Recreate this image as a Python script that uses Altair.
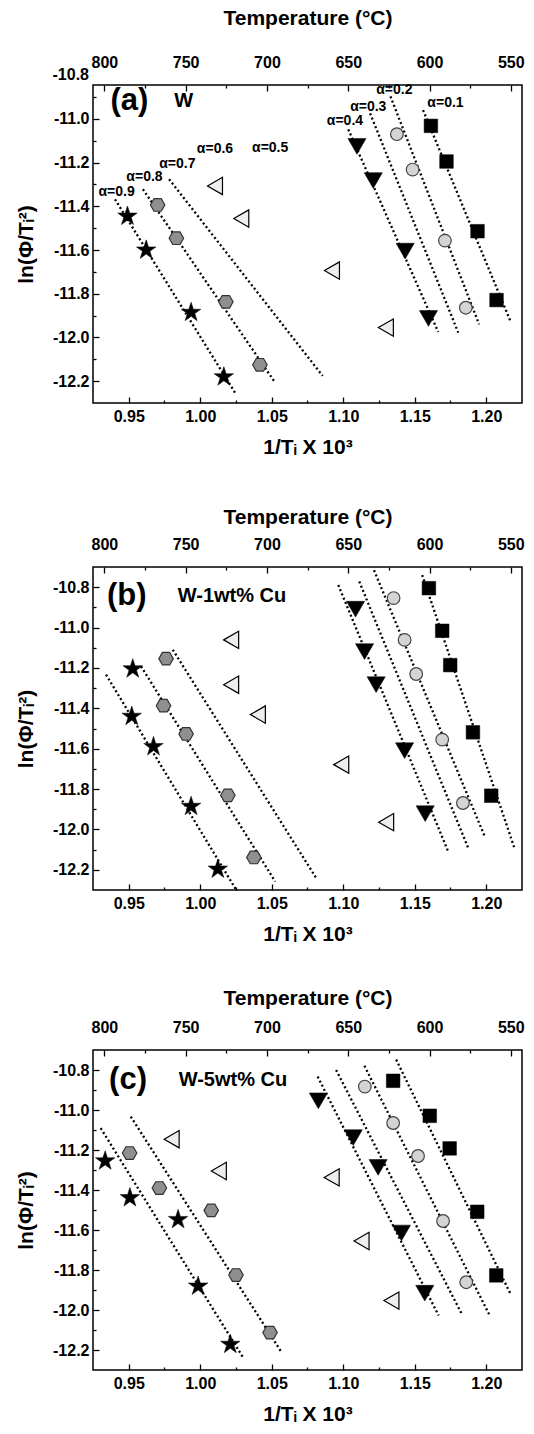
import altair as alt
import pandas as pd

FONT = "Liberation Sans"

# ---------------- axes ----------------
X_DOMAIN = [0.925, 1.225]
T_DOMAIN = [543.1, 807.0]   # temperature (deg C) at the right / left plot edges
X_MAJOR = [0.95, 1.00, 1.05, 1.10, 1.15, 1.20]
X_MINOR = [0.975, 1.025, 1.075, 1.125, 1.175]
T_MAJOR = [800, 750, 700, 650, 600, 550]
T_MINOR = [775, 725, 675, 625, 575]
Y_MAJOR = [-10.8, -11.0, -11.2, -11.4, -11.6, -11.8, -12.0, -12.2]
Y_MINOR = [-10.9, -11.1, -11.3, -11.5, -11.7, -11.9, -12.1]

# ---------------- panel (a) W ----------------
A_YDOM = [-12.3, -10.845]
A_SQ_X = [1.1613, 1.1722, 1.1939, 1.2072]
A_SQ_Y = [-11.032, -11.195, -11.514, -11.829]
A_CI_X = [1.1375, 1.1485, 1.1711, 1.1857]
A_CI_Y = [-11.070, -11.232, -11.557, -11.864]
A_TD_X = [1.1096, 1.1210, 1.1433, 1.1596]
A_TD_Y = [-11.126, -11.282, -11.605, -11.913]
A_TL_X = [1.0103, 1.0287, 1.0921, 1.1298]
A_TL_Y = [-11.307, -11.456, -11.694, -11.955]
A_HX_X = [0.9702, 0.9833, 1.0179, 1.0417]
A_HX_Y = [-11.394, -11.546, -11.837, -12.125]
A_ST_X = [0.9491, 0.9622, 0.9936, 1.0165]
A_ST_Y = [-11.441, -11.596, -11.881, -12.176]
A_LINE_ID = ["0.1", "0.2", "0.3", "0.4", "0.7", "0.8", "0.9"]
A_LINE_X1 = [1.1558, 1.1330, 1.1188, 1.1035, 0.9782, 0.9599, 0.9404]
A_LINE_Y1 = [-10.960, -10.897, -10.975, -11.048, -11.276, -11.322, -11.368]
A_LINE_X2 = [1.2167, 1.1950, 1.1804, 1.1664, 1.0856, 1.0523, 1.0252]
A_LINE_Y2 = [-11.922, -11.940, -11.978, -11.975, -12.176, -12.206, -12.262]
A_ALPHA_T = ["\u03b1=0.1", "\u03b1=0.2", "\u03b1=0.3", "\u03b1=0.4", "\u03b1=0.5",
             "\u03b1=0.6", "\u03b1=0.7", "\u03b1=0.8", "\u03b1=0.9"]
A_ALPHA_X = [1.1715, 1.1357, 1.1175, 1.1012, 1.0489, 1.0103, 0.9840, 0.9610, 0.9415]
A_ALPHA_Y = [-10.926, -10.870, -10.945, -11.009, -11.134, -11.139, -11.208, -11.266, -11.335]

# ---------------- panel (b) W-1wt% Cu ----------------
B_YDOM = [-12.3, -10.7]
B_SQ_X = [1.1599, 1.1692, 1.1748, 1.1907, 1.2035]
B_SQ_Y = [-10.805, -11.016, -11.186, -11.519, -11.833]
B_CI_X = [1.1352, 1.1429, 1.1510, 1.1692, 1.1837]
B_CI_Y = [-10.854, -11.061, -11.230, -11.555, -11.869]
B_TD_X = [1.1086, 1.1149, 1.1230, 1.1429, 1.1573]
B_TD_Y = [-10.909, -11.119, -11.283, -11.610, -11.922]
B_TL_X = [1.0216, 1.0216, 1.0403, 1.0986, 1.1300]
B_TL_Y = [-11.061, -11.283, -11.431, -11.679, -11.964]
B_HX_X = [0.9761, 0.9743, 0.9901, 1.0193, 1.0375]
B_HX_Y = [-11.154, -11.387, -11.527, -11.831, -12.139]
B_ST_X = [0.9528, 0.9521, 0.9673, 0.9936, 1.0123]
B_ST_Y = [-11.200, -11.435, -11.585, -11.881, -12.192]
B_LINE_ID = ["0.1", "0.2", "0.3", "0.4", "0.7", "0.8", "0.9"]
B_LINE_X1 = [1.1552, 1.1215, 1.1112, 1.0965, 0.9808, 0.9586, 0.9341]
B_LINE_Y1 = [-10.740, -10.716, -10.772, -10.789, -11.110, -11.192, -11.233]
B_LINE_X2 = [1.2198, 1.1990, 1.1872, 1.1732, 1.0811, 1.0524, 1.0251]
B_LINE_Y2 = [-12.094, -12.036, -12.089, -12.106, -12.241, -12.258, -12.299]

# ---------------- panel (c) W-5wt% Cu ----------------
C_YDOM = [-12.3, -10.7]
C_SQ_X = [1.1349, 1.1605, 1.1744, 1.1937, 1.2070]
C_SQ_Y = [-10.854, -11.029, -11.192, -11.509, -11.827]
C_CI_X = [1.1151, 1.1349, 1.1523, 1.1698, 1.1860]
C_CI_Y = [-10.883, -11.065, -11.230, -11.555, -11.861]
C_TD_X = [1.0826, 1.1070, 1.1244, 1.1407, 1.1570]
C_TD_Y = [-10.954, -11.138, -11.287, -11.615, -11.916]
C_TL_X = [0.9800, 1.0130, 1.0919, 1.1128, 1.1337]
C_TL_Y = [-11.146, -11.305, -11.337, -11.655, -11.953]
C_HX_X = [0.9506, 0.9714, 1.0077, 1.0250, 1.0488]
C_HX_Y = [-11.215, -11.390, -11.502, -11.825, -12.113]
C_ST_X = [0.9335, 0.9508, 0.9845, 0.9985, 1.0210]
C_ST_Y = [-11.250, -11.434, -11.543, -11.876, -12.167]
C_LINE_ID = ["0.1", "0.2", "0.3", "0.4", "0.8", "0.9"]
C_LINE_X1 = [1.1370, 1.1148, 1.0950, 1.0821, 0.9514, 0.9304]
C_LINE_Y1 = [-10.748, -10.779, -10.800, -10.833, -11.033, -11.091]
C_LINE_X2 = [1.2172, 1.2023, 1.1826, 1.1667, 1.0570, 1.0301]
C_LINE_Y2 = [-11.923, -12.026, -12.016, -12.028, -12.213, -12.239]

HEX = "M-1,0L-0.5,-0.866L0.5,-0.866L1,0L0.5,0.866L-0.5,0.866Z"
STAR = ("M0,-0.9045L0.2245,-0.2135L0.9511,-0.2135L0.3633,0.2135L0.5878,0.9045"
        "L0,0.4775L-0.5878,0.9045L-0.3633,0.2135L-0.9511,-0.2135L-0.2245,-0.2135Z")
MINUS = "\u2212"

# the top temperature axis is linear across the plot width
K_T = (T_DOMAIN[1] - T_DOMAIN[0]) / (X_DOMAIN[1] - X_DOMAIN[0])


def t_to_x(t):
    return X_DOMAIN[0] + (T_DOMAIN[1] - t) / K_T


T_MAJOR_POS = [t_to_x(t) for t in T_MAJOR]
T_MINOR_POS = [t_to_x(t) for t in T_MINOR]
T_LABEL_EXPR = f"format(round({T_DOMAIN[1]} - (datum.value - {X_DOMAIN[0]}) * {K_T}), 'd')"
Y_LABEL_EXPR = f"replace(datum.label, '{MINUS}', '-')"


def panel(letter, alloy, letter_x, alloy_x, label_y, S, lid, lx1, ly1, lx2, ly2,
          alpha, ydom, h, top_title_pad):
    xs = alt.Scale(domain=X_DOMAIN, nice=False, zero=False)
    ys = alt.Scale(domain=ydom, nice=False, zero=False)
    y_in = [v for v in Y_MAJOR if v <= ydom[1]]
    y_out = [v for v in Y_MAJOR if v > ydom[1]]

    x_axis = alt.Axis(orient="bottom", values=X_MAJOR, format=".2f", tickSize=6,
                      offset=-6, labelPadding=5, labelFlush=False,
                      title="1/T\u1d62 X 10\u00b3", titlePadding=12)
    y_axis = alt.Axis(orient="left", values=y_in, format=".1f", tickSize=6,
                      offset=-6, labelPadding=4, labelFlush=False,
                      labelExpr=Y_LABEL_EXPR,
                      title="ln(\u03a6/T\u1d62\u00b2)", titlePadding=16)

    def XN():
        return alt.X("x:Q", scale=xs, axis=None)

    def YN():
        return alt.Y("y:Q", scale=ys, axis=None)

    rows = []
    for i, s in enumerate(lid):
        rows.append({"s": s, "x": lx1[i], "y": ly1[i]})
        rows.append({"s": s, "x": lx2[i], "y": ly2[i]})
    lines = alt.Chart(pd.DataFrame(rows)).mark_line(
        color="black", strokeWidth=2.3, strokeDash=[2, 2.6]
    ).encode(x=alt.X("x:Q", scale=xs, axis=x_axis),
             y=alt.Y("y:Q", scale=ys, axis=y_axis),
             detail="s:N")

    layers = [lines]
    styles = [
        ("tl", "triangle-left", 300, "#eeeeee", "black", 1.2),
        ("hx", HEX, 210, "#8f8f8f", "#333333", 1.2),
        ("ci", "circle", 160, "#d4d4d4", "#444444", 1.2),
        ("sq", "square", 185, "black", "black", 0.5),
        ("td", "triangle-down", 330, "black", "black", 0.5),
        ("st", STAR, 420, "black", "black", 0.5),
    ]
    for key, shape, size, fill, stroke, sw in styles:
        xv, yv = S[key]
        df = pd.DataFrame({"x": xv, "y": yv})
        layers.append(alt.Chart(df).mark_point(
            shape=shape, size=size, filled=True, fill=fill, stroke=stroke,
            strokeWidth=sw, opacity=1
        ).encode(x=XN(), y=YN()))

    if alpha is not None:
        t, ax, ay = alpha
        layers.append(alt.Chart(pd.DataFrame({"t": t, "x": ax, "y": ay})).mark_text(
            font=FONT, fontSize=14, fontWeight="bold", color="black"
        ).encode(x=XN(), y=YN(), text="t:N"))

    layers.append(alt.Chart(pd.DataFrame({"t": [letter], "x": [letter_x], "y": [label_y]}))
                  .mark_text(font=FONT, fontSize=31, fontWeight="bold", color="black")
                  .encode(x=XN(), y=YN(), text="t:N"))
    layers.append(alt.Chart(pd.DataFrame({"t": [alloy], "x": [alloy_x], "y": [label_y]}))
                  .mark_text(font=FONT, fontSize=20, fontWeight="bold", color="black",
                             align="left")
                  .encode(x=XN(), y=YN(), text="t:N"))

    # y labels that sit above the top of the frame (panel a: -10.8)
    if y_out:
        layers.append(alt.Chart(pd.DataFrame({
            "t": [f"{v:.1f}" for v in y_out], "x": [X_DOMAIN[0]] * len(y_out), "y": y_out}))
            .mark_text(font=FONT, fontSize=16, fontWeight="bold", color="black",
                       align="right", baseline="middle", dx=-4)
            .encode(x=XN(), y=YN(), text="t:N"))

    # ---- extra axes on the same scales: minor ticks and the top temperature axis
    def ax_layer(xvals, yvals, xaxis=None, yaxis=None):
        df = pd.DataFrame({"x": xvals, "y": yvals})
        return alt.Chart(df).mark_point(opacity=0, size=1).encode(
            x=alt.X("x:Q", scale=xs, axis=xaxis),
            y=alt.Y("y:Q", scale=ys, axis=yaxis))

    mid_y = (ydom[0] + ydom[1]) / 2
    mid_x = (X_DOMAIN[0] + X_DOMAIN[1]) / 2
    layers.append(ax_layer(X_MINOR, [mid_y] * len(X_MINOR), xaxis=alt.Axis(
        orient="bottom", values=X_MINOR, labels=False, tickSize=3, offset=-3, title=None)))
    layers.append(ax_layer([mid_x] * len(Y_MINOR), Y_MINOR, yaxis=alt.Axis(
        orient="left", values=Y_MINOR, labels=False, tickSize=3, offset=-3, title=None)))
    layers.append(ax_layer(T_MAJOR_POS, [mid_y] * len(T_MAJOR), xaxis=alt.Axis(
        orient="top", values=T_MAJOR_POS, labelExpr=T_LABEL_EXPR, tickSize=6, offset=-6,
        labelPadding=15, labelFlush=False, title="Temperature (\u00b0C)",
        titlePadding=top_title_pad)))
    layers.append(ax_layer(T_MINOR_POS, [mid_y] * len(T_MINOR), xaxis=alt.Axis(
        orient="top", values=T_MINOR_POS, labels=False, tickSize=3, offset=-3, title=None)))

    return alt.layer(*layers).resolve_axis(x="independent", y="independent").properties(
        width=429, height=h)


pa = panel("(a)", "W", 0.9505, 0.9819, -10.918,
           {"sq": (A_SQ_X, A_SQ_Y), "ci": (A_CI_X, A_CI_Y), "td": (A_TD_X, A_TD_Y),
            "tl": (A_TL_X, A_TL_Y), "hx": (A_HX_X, A_HX_Y), "st": (A_ST_X, A_ST_Y)},
           A_LINE_ID, A_LINE_X1, A_LINE_Y1, A_LINE_X2, A_LINE_Y2,
           (A_ALPHA_T, A_ALPHA_X, A_ALPHA_Y), A_YDOM, 318, 26)
pb = panel("(b)", "W-1wt% Cu", 0.9486, 0.9843, -10.845,
           {"sq": (B_SQ_X, B_SQ_Y), "ci": (B_CI_X, B_CI_Y), "td": (B_TD_X, B_TD_Y),
            "tl": (B_TL_X, B_TL_Y), "hx": (B_HX_X, B_HX_Y), "st": (B_ST_X, B_ST_Y)},
           B_LINE_ID, B_LINE_X1, B_LINE_Y1, B_LINE_X2, B_LINE_Y2,
           None, B_YDOM, 323, 9)
pc = panel("(c)", "W-5wt% Cu", 0.9495, 0.9849, -10.852,
           {"sq": (C_SQ_X, C_SQ_Y), "ci": (C_CI_X, C_CI_Y), "td": (C_TD_X, C_TD_Y),
            "tl": (C_TL_X, C_TL_Y), "hx": (C_HX_X, C_HX_Y), "st": (C_ST_X, C_ST_Y)},
           C_LINE_ID, C_LINE_X1, C_LINE_Y1, C_LINE_X2, C_LINE_Y2,
           None, C_YDOM, 320, 11)

chart = alt.vconcat(alt.vconcat(pa, pb, spacing=47), pc, spacing=41).properties(
    padding={"left": 14, "top": 6, "right": 5, "bottom": 5}, background="white"
).configure_view(stroke="black", strokeWidth=1.5).configure_axis(
    labelFont=FONT, labelFontSize=16, labelFontWeight="bold", labelColor="black",
    titleFont=FONT, titleFontSize=21, titleFontWeight="bold", titleColor="black",
    tickColor="black", tickWidth=1.3, grid=False, domain=False
)

chart.save("out.html", embed_options={"renderer": "svg", "actions": False})
